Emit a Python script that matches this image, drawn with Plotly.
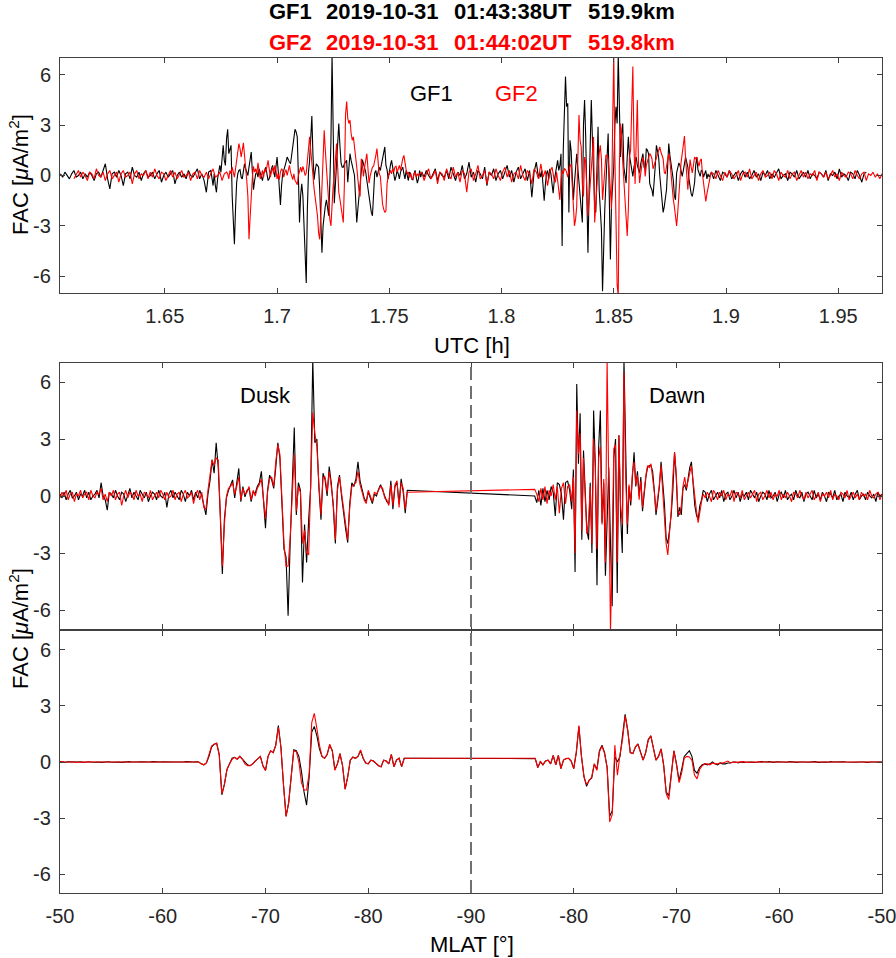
import numpy as np
import plotly.graph_objects as go

W, H = 896, 958
FONT = "Liberation Sans, Arial, sans-serif"

# ---------------- Top panel: FAC [uA/m^2] vs UTC [h] ----------------
GF1_UTC_SPANS = [(1.6035, 1.6715), (1.6720, 1.7640), (1.7645, 1.8165), (1.8170, 1.8925), (1.8935, 1.9625)]
GF1_FAC_Q1 = [0.1,-0.1,0.2,0.0,-0.2,0.1,0.3,-0.1,0.0,0.2,-0.2,0.1,-0.1,0.2,0.0,-0.3,0.1,0.2,-0.1,0.3,
              0.7,-0.2,-0.8,0.1,0.2,-0.1,0.3,0.0,-0.6,0.1,0.2,-0.2,0.5,0.0,-0.1,0.2,-0.3,0.1,0.3,-0.1,
              0.0,0.2,-0.2,0.1,0.3,-0.4,0.0,0.2,-0.1,0.1,0.3,-0.5,0.0,0.2,-0.1,0.1,-0.2,0.3,0.0,-0.1,
              0.2,0.4,-0.2,0.1,-0.3,-1.0,0.2,0.3,-0.6]
GF1_FAC_A1 = [0.1,-0.6,-1.0,-0.2,0.4,0.6,0.2,1.2,1.8,0.9,0.6,2.2,2.75,1.3,1.5,1.8,-1.2,-3.0,-4.1,-2.0,
              -0.4,0.1,0.3,0.35,-0.1,-0.2,0.3,0.7,0.4,0.1,0.0,0.5,1.0,1.4,0.2,-0.85,-0.3,0.1,0.2,-0.1,
              0.4,0.2,-0.1,-0.3,0.1,0.3,0.5,0.1,-0.3,-0.2,0.2,0.4,0.6,0.2,-0.1,0.5,1.1,0.3,-0.8,-1.75,
              -0.6,0.1,0.3,0.5,0.8,1.1,0.9,0.8,0.7,1.3,1.9,2.5,2.75,2.6,2.3,0.0,-2.8,-1.2,-0.5,-1.2,
              -3.0,-5.5,-6.4,-2.0,0.2,0.9,2.0,3.55,1.2,-0.25,0.3,0.7,0.6,0.5,-0.8,-2.4,-4.6,-3.0,-2.2,-1.8,
              -1.45,-2.0,-2.4,-0.5,2.0,7.2,1.0,-1.65,-0.5,1.0,2.2,3.1,1.8,0.75,0.5,0.5,0.7,0.8,0.9,-0.4,
              0.3,1.3,0.9,0.6,0.5,0.0,-1.4,-2.8,-2.0,-1.25,-0.2,0.6,0.95,0.7,0.5,0.2,-0.3,-0.85,-1.3,-2.0,
              -2.2,-2.4,-1.0,0.15,0.3,-0.1,0.2,0.5,0.3,0.6,0.9,1.3,1.7,0.6,0.35,-0.2,0.3,0.6,0.9,0.4,
              0.1,-0.3,-0.05,0.3,0.1,-0.2,0.2,0.4,0.5,0.1,-0.2,0.3,0.0,-0.3,0.2,0.1,-0.2,-0.25,0.1,0.3,
              -0.1,-0.45,-0.2,0.3,-0.1]
GF1_FAC_Q2 = [0.2,-0.1,0.3,0.0,-0.2,0.1,0.4,-0.3,0.2,0.0,-0.1,0.3,-0.2,0.5,0.1,-0.3,0.2,0.0,0.6,-0.2,
              0.1,0.8,-0.1,0.2,-0.4,0.3,0.1,-0.2,0.5,-0.6,0.2,0.0,0.4,-0.3,0.1,0.3,-0.2,0.2,0.6,-0.1,
              0.3,-0.4,0.2,0.5,-0.2,0.1,0.4,-0.3,0.3,-1.3,0.2,0.8,-0.2]
GF1_FAC_A2 = [0.2,-0.1,0.3,-0.4,-1.5,-0.6,0.1,0.3,-0.2,0.4,0.1,-0.5,-1.05,-0.3,0.2,0.5,0.9,0.3,0.6,1.3,
              -4.2,1.5,4.0,5.9,4.1,4.3,-2.2,2.1,1.5,-0.6,-1.45,-0.45,0.6,1.3,0.4,-0.45,-1.65,-2.2,-2.8,3.0,
              4.5,2.3,-2.8,-4.6,-1.0,1.8,4.5,2.1,-0.5,-1.85,-2.2,0.8,2.9,-0.85,-2.0,-3.2,-6.9,-3.5,-2.0,-0.45,
              1.5,2.5,-1.25,-5.0,-1.65,-0.3,0.5,3.0,4.1,3.1,7.2,4.1,1.1,2.5,3.1,0.5,-0.2,-0.45,1.1,2.3,
              1.2,0.75,0.2,-0.05,0.5,0.9,1.1,0.6,0.3,0.15,0.7,1.0,1.3,0.5,0.35,1.6,1.5,1.3,-0.45,-0.7,
              -0.85,-1.25,-0.5,0.6,1.8,1.5,1.1,0.0,-0.85,-1.8,-2.2,-1.85,-1.4,-0.85,0.5,1.9,1.2,0.75,0.1,-0.25,
              -1.2,-1.45,0.15,0.4,0.75,0.6,0.3,-0.05,0.3,0.7,1.1,0.8,0.5,-0.2,-0.85,-1.1,-1.25,-0.7,-0.45,0.6,
              1.1,0.35,0.1,-0.05,0.3,0.25,-0.1,0.2,0.3,-0.2,0.1,-0.1]
GF1_FAC_Q3 = [0.2,-0.2,0.3,0.0,-0.3,0.2,0.1,-0.1,0.3,-0.2,0.0,0.2,-0.3,0.1,0.3,-0.1,0.2,-0.2,0.0,0.3,
              -0.1,0.1,-0.3,0.2,0.0,0.3,-0.2,0.1,-0.1,0.2,0.4,-0.2,0.0,0.1,-0.3,0.2,0.1,-0.1,0.3,-0.2,
              0.0,0.2,-0.1,0.3,-0.2,0.1,0.0,-0.2,0.2,0.1,-0.1,0.3,-0.3,0.1,0.0,0.2,-0.2,0.4,-0.1,0.1,
              0.0,-0.3,0.2,0.1,-0.2,0.3,0.0,-0.4,0.1,0.2]

GF2_UTC_SPANS = [(1.6095, 1.6775), (1.6780, 1.7635), (1.7645, 1.8235), (1.8240, 1.8935), (1.8945, 1.9695)]
GF2_FAC_Q1 = [-0.2,0.1,0.3,-0.1,0.2,0.0,-0.3,0.2,0.1,-0.2,0.4,0.0,-0.1,0.2,-0.3,0.1,0.3,-0.2,0.0,0.2,
              -0.4,0.1,0.3,-0.1,0.0,0.2,-0.5,0.1,0.3,-0.2,0.1,0.0,0.3,-0.2,0.2,-0.1,0.4,0.0,-0.2,0.2,
              0.1,-0.3,0.0,0.3,-0.1,0.2,-0.2,0.1,0.3,-0.1,0.0,0.2,-0.3,0.1,0.2,-0.2,0.3,0.0,-0.1,0.2,
              -0.2,0.1,0.4,-0.1,0.0,0.2,-0.3,0.1,0.2]
GF2_FAC_A1 = [0.1,-0.2,0.3,0.1,0.5,0.2,-0.1,0.4,0.9,1.5,1.9,1.6,1.1,1.5,1.95,1.2,0.55,-0.3,-1.25,-3.8,
              -2.5,-0.85,-0.1,0.55,0.2,0.4,0.1,0.75,0.3,-0.2,0.0,0.3,-0.1,0.4,0.2,0.5,0.9,0.4,-0.1,0.2,
              0.5,0.1,0.6,0.3,-0.2,0.1,-0.25,0.2,0.4,0.3,-0.1,0.2,0.35,0.0,0.3,0.6,0.2,-0.1,-0.25,0.1,
              -0.3,-0.4,-0.55,0.0,0.35,0.5,0.2,0.55,0.3,0.0,0.15,0.8,1.6,2.3,1.5,0.9,0.0,-0.8,-1.25,-1.9,
              -2.4,-3.4,-3.8,-2.4,-0.3,1.2,2.7,1.5,0.55,-0.9,-1.85,-2.6,-3.0,-1.5,-0.6,-0.05,1.0,1.9,0.5,-1.0,
              -1.4,-1.85,-2.3,-2.8,-0.5,3.6,4.4,3.4,3.1,3.3,2.5,2.1,2.3,1.5,1.1,0.5,-0.3,-0.9,-1.25,1.0,
              0.6,-0.05,0.5,1.0,1.3,0.4,-0.45,0.0,0.3,0.5,0.55,0.8,1.2,1.6,0.8,0.1,-0.05,-0.9,-1.7,-2.0,
              -2.2,-2.1,-0.5,-0.05,0.15,0.3,0.1,0.4,0.2,0.5,0.55,0.2,0.4,0.6,0.3,0.8,1.0,1.2,0.6,0.35,
              0.1,0.2,-0.1,0.1,-0.2,-0.2,0.1,0.2,-0.1,0.1,0.0,0.1]
GF2_FAC_Q2 = [0.2,-0.3,0.1,0.4,-0.2,0.0,0.3,-0.5,0.2,0.1,-0.3,0.4,0.0,-0.2,0.5,-0.1,0.2,-0.4,0.3,0.1,
              -1.0,0.2,0.4,-0.3,0.1,0.6,-0.2,0.0,0.3,-0.5,0.2,0.1,-0.2,0.4,0.0,-0.3,0.2,0.5,-0.1,0.3,
              -0.4,0.1,0.2,-0.2,0.6,0.0,-0.3,0.3,0.1,-0.5,0.4,0.2,-0.2,0.7,-0.1,0.3,-0.6,0.2,0.5,-0.3]
GF2_FAC_A2 = [-0.4,0.2,-0.3,-0.9,-1.45,-0.2,0.3,0.1,0.4,0.35,0.2,-0.1,0.3,0.6,0.65,-0.8,-2.0,-3.0,-2.6,-1.85,
              1.0,3.6,2.1,1.7,-0.5,-1.25,1.1,0.8,-0.8,-2.4,-1.5,-0.5,0.55,1.5,2.3,-2.8,-1.5,-0.45,0.5,1.3,
              1.8,1.0,-1.45,-0.6,0.15,1.2,1.2,1.0,0.2,-1.0,-2.0,3.0,7.2,1.1,-3.0,-6.5,-7.2,0.5,3.1,2.3,
              0.8,-0.3,-1.0,-2.6,-3.6,-2.0,1.1,1.5,3.5,6.5,1.8,-0.5,2.0,4.5,0.8,-0.45,0.1,0.55,1.1,0.8,
              -0.05,0.6,0.9,1.1,1.3,1.2,1.0,0.4,0.6,0.9,1.1,1.3,1.5,1.7,1.4,1.2,1.0,0.2,0.1,0.55,
              0.9,1.3,0.9,0.0,-0.85,-1.4,-1.85,-2.6,-3.0,-2.2,-1.0,0.15,0.8,1.3,2.0,2.35,1.0,0.2,-0.85,0.1,
              0.95,0.5,0.15,0.6,1.1,1.0,1.1,0.8,0.55,0.9,1.0,0.1,-0.5,-0.85,-1.55,-1.1,-0.65,-0.2,-0.05,0.2]
GF2_FAC_Q3 = [0.1,-0.2,0.3,0.0,-0.3,0.2,-0.1,0.3,0.1,-0.2,0.0,0.3,-0.3,0.1,0.2,-0.1,0.4,-0.2,0.0,0.2,
              -0.3,0.1,0.3,-0.1,0.0,0.2,-0.2,0.3,0.1,-0.3,0.2,0.0,-0.1,0.3,-0.2,0.1,0.2,-0.3,0.0,0.3,
              -0.1,0.2,-0.2,0.1,0.0,0.3,-0.3,0.2,0.1,-0.1,0.2,-0.2,0.0,0.3,-0.1,0.1,-0.3,0.2,0.0,-0.1,
              0.2,0.1,-0.2,0.3,0.0,-0.2,0.1,0.2,-0.3,0.1,0.0,0.2,-0.1,0.1,-0.2,0.1]

# ---------------- Middle panel: FAC vs MLAT (dusk -> pole -> dawn) ----------------
MID_MLAT_SPANS = [(-50.0, -63.0, "dusk"), (-63.2, -83.8, "dusk"),
                  (-83.8, -80.4, "dawn"), (-80.2, -67.4, "dawn"), (-67.2, -50.0, "dawn")]
GF1_MID_DUSK_Q = [0.1,-0.1,0.2,-0.2,0.1,0.3,-0.1,0.0,0.2,-0.2,0.1,0.0,0.3,-0.1,0.2,-0.2,0.0,0.1,0.3,-0.1,
                  0.7,0.0,-0.2,-0.75,0.2,0.1,-0.1,0.3,0.0,-0.2,0.2,0.1,-0.3,0.1,0.4,-0.1,0.2,0.0,-0.2,0.3,
                  0.1,-0.1,0.2,-0.3,0.0,0.2,0.1,-0.2,0.3,0.0,-0.1,0.2,-0.6,0.1,0.3,-0.1,0.2,0.0,-0.2,0.3,
                  0.1,-0.3,0.2,0.0,0.3,-0.2]
GF1_MID_DUSK_A = [0.2,-0.1,0.3,0.0,-0.5,-1.0,0.1,0.8,1.9,1.2,2.8,1.5,-1.05,-4.1,-1.2,-0.1,0.3,0.6,0.85,-0.1,
                  0.6,1.45,-0.3,0.5,-0.05,0.3,0.4,-0.3,0.2,0.15,0.5,0.7,1.3,-0.2,-1.7,0.3,1.1,0.85,0.4,1.5,
                  2.8,2.0,-0.2,-2.8,-3.2,-6.3,-2.5,0.5,3.6,-1.0,0.7,0.3,-4.55,-1.5,-3.5,-1.25,0.5,7.2,2.8,3.0,
                  0.4,-1.25,1.2,0.85,0.0,1.55,0.7,-0.6,-2.5,0.5,1.1,0.0,-1.0,-1.75,-2.45,-0.4,0.7,0.5,0.9,1.8,
                  0.8,0.3,-0.1,-0.3,0.2,-0.1,-0.4,0.1,0.0,0.35,0.6,0.3,0.0,-0.3,-0.4,0.8,-0.7,0.5,0.7,-0.4,
                  0.9,0.2,-0.9,0.3]
GF1_MID_DAWN_P = [0.0,-0.35,0.3,-0.5,0.4,-0.3,0.3,-0.2,0.5,0.2,-1.05,0.7,0.6,0.1,-1.25,0.7,0.8,0.3]
GF1_MID_DAWN_A = [-0.7,1.4,-4.0,5.9,1.7,4.35,-2.3,2.4,0.3,-1.8,-2.3,0.7,-3.0,4.5,1.7,-4.7,2.6,4.5,-1.4,0.7,
                  -4.2,-0.9,1.5,-2.5,-5.8,2.0,3.0,-5.1,3.2,-1.0,-3.0,7.2,1.5,-2.0,0.5,-0.5,1.0,
                  2.3,0.5,1.3,0.0,1.0,-0.8,0.3,1.0,1.5,1.6,1.6,1.3,0.3,-1.0,-0.3,0.5,1.8,0.7,-0.4,-2.2,
                  -2.5,-1.8,-1.0,0.3,2.3,1.0,-1.1,-0.6,-1.0,0.4,0.6,0.3,1.0,1.5,1.8,0.5,-0.5,-1.0,-1.25,-0.5,
                  -0.2,0.3]
GF1_MID_DAWN_Q = [0.2,-0.3,0.1,0.3,-0.2,0.0,0.2,-0.1,0.3,-0.3,0.1,0.2,-0.2,0.0,0.3,-0.1,0.2,-0.3,0.1,0.0,
                  0.2,-0.2,0.3,0.1,-0.1,0.2,-0.3,0.0,0.2,0.1,-0.2,0.3,-0.1,0.0,0.2,-0.3,0.1,0.2,-0.1,0.3,
                  -0.2,0.0,0.1,-0.2,0.3,0.0,-0.1,0.2,-0.3,0.1,0.2,0.0,-0.2,0.3,-0.1,0.1,-0.2,0.2,0.0,-0.3,
                  0.2,0.1,-0.1,0.3,-0.2,0.0,0.1,-0.3,0.2,0.0,-0.1,0.2,-0.2,0.1,0.3,-0.2,0.0,0.1,-0.2,0.2,
                  0.0,-0.1,0.1,-0.3,0.2,0.0,0.1]

GF2_MID_DUSK_Q = [-0.1,0.2,0.0,0.3,-0.2,0.1,0.2,-0.3,0.1,0.0,0.3,-0.1,0.1,0.2,-0.2,0.3,0.0,-0.1,0.2,0.1,
                  0.4,-0.2,0.1,-0.3,0.2,0.0,0.3,-0.2,0.1,0.2,-0.5,0.0,0.3,-0.1,0.2,0.1,-0.2,0.3,0.0,0.1,
                  -0.3,0.2,0.1,-0.1,0.3,-0.2,0.0,0.2,-0.1,0.3,0.1,-0.2,0.2,-0.1,0.0,0.3,-0.2,0.1,0.2,-0.3,
                  0.1,0.3,-0.1,0.0,0.2,-0.4]
GF2_MID_DUSK_A = [0.1,0.3,-0.2,0.2,-0.6,-0.7,0.3,1.0,1.9,1.6,2.0,1.9,-0.5,-3.7,-1.5,0.0,0.4,0.5,0.7,0.1,
                  0.5,1.0,-0.2,0.4,0.1,0.2,0.5,-0.2,0.3,0.0,0.4,0.6,0.9,-0.1,-1.2,0.2,0.9,1.0,0.5,1.8,
                  2.7,2.2,0.0,-2.5,-3.7,-3.7,-2.2,0.3,2.2,-0.8,0.5,0.2,-2.5,-1.8,-3.0,-3.1,0.8,4.4,3.3,2.6,
                  0.6,-1.0,1.0,1.0,0.2,1.3,0.5,-0.4,-2.3,0.3,1.0,0.2,-0.8,-1.6,-2.3,-0.6,0.5,0.6,0.7,1.3,
                  0.6,0.2,-0.2,-0.4,0.3,0.0,-0.3,0.2,0.1,0.3,0.5,0.4,-0.1,-0.2,-0.5,0.6,-0.5,0.6,0.8,-0.6,
                  0.7,0.4,-0.7,0.2]
GF2_MID_DAWN_P = [0.35,0.1,-0.3,0.4,-0.2,0.5,-0.4,0.3,0.0,0.6,-0.2,0.5,-0.9,0.4,0.7,-0.4,0.5,0.6]
GF2_MID_DAWN_A = [-0.3,1.0,-3.0,4.5,2.2,3.3,-1.8,2.0,0.0,-2.0,-1.3,0.5,-2.5,3.0,1.5,-2.8,2.0,2.6,-1.5,0.9,
                  -3.5,7.2,0.5,-7.2,-2.5,2.5,2.7,-3.5,3.2,-0.5,-1.5,6.5,1.0,-1.5,0.6,-0.3,1.2,
                  1.8,0.6,1.1,-0.2,0.8,-0.6,0.4,1.1,1.6,1.5,1.7,1.0,0.2,-0.8,-0.2,0.6,1.6,0.4,-0.8,-2.5,
                  -3.1,-2.0,-0.8,1.0,2.3,1.2,-0.8,-1.0,-0.5,0.5,1.0,0.4,0.8,1.3,1.6,0.8,-0.2,-0.8,-1.4,-0.8,
                  -0.3,0.1]
GF2_MID_DAWN_Q = [-0.1,0.2,0.0,-0.3,0.3,0.1,-0.2,0.2,0.0,0.3,-0.2,0.1,0.0,0.3,-0.3,0.2,0.1,-0.1,0.3,-0.2,
                  0.0,0.2,-0.1,0.1,0.3,-0.3,0.1,0.2,-0.2,0.0,0.3,-0.1,0.2,-0.2,0.1,0.0,0.3,-0.2,0.1,-0.1,
                  0.2,0.0,-0.3,0.2,0.1,-0.1,0.3,0.0,-0.2,0.2,-0.1,0.1,0.3,-0.2,0.0,0.2,-0.3,0.1,0.0,0.2,
                  -0.1,0.3,-0.2,0.1,0.0,-0.2,0.2,0.1,-0.1,0.3,-0.2,0.0,0.2,-0.1,0.1,-0.2,0.2,0.0,0.1,-0.2,
                  0.3,0.0,-0.1,0.1,0.2,-0.2,0.1]

# ---------------- Bottom panel: low-pass FAC vs MLAT ----------------
LOW_MLAT_SPANS = [(-50.0, -63.25, "dusk"), (-63.5, -83.75, "dusk"),
                  (-83.75, -68.0, "dawn"), (-67.75, -50.0, "dawn")]
GF1_LOW_DUSK_Q = [0.02,0.0,-0.02,0.01,0.0,0.02,-0.01,0.0,0.01,-0.02,0.0,0.02,0.0,-0.01,0.01,0.0,-0.02,0.0,
                  0.02,0.01,-0.01,0.0,0.01,0.0,-0.02,0.0,0.01,0.02,0.0,-0.01,0.0,0.01,0.0,-0.02,0.01,0.0,
                  0.02,0.0,-0.01,0.0,0.01,0.0,-0.01,0.02,0.0,0.0,-0.01,0.01,0.0,0.02,0.0,-0.01,0.0,0.01]
GF1_LOW_DUSK_A = [0.0,-0.1,-0.15,-0.05,0.3,0.8,0.95,1.0,0.4,-1.75,-1.2,-0.4,-0.1,0.2,0.25,0.15,0.3,0.15,-0.05,-0.15,
                  -0.2,-0.1,0.05,0.2,0.3,-0.2,-0.45,0.3,0.6,0.5,0.9,1.95,0.8,-1.2,-2.9,-2.2,-0.6,0.65,0.6,0.3,
                  -0.5,-1.6,-2.3,-0.8,1.6,1.9,1.4,0.7,0.3,0.2,0.4,0.9,0.6,-0.4,-0.1,0.45,-0.2,-1.45,-0.8,0.1,
                  0.27,0.2,0.3,0.6,0.2,-0.05,-0.1,0.1,0.05,-0.1,-0.2,-0.25,0.1,0.05,-0.1,0.4,-0.25,0.1,0.2,-0.25,
                  0.2,0.2]
GF1_LOW_DAWN_A = [0.18,-0.3,0.0,-0.15,0.05,0.1,-0.1,0.35,-0.15,0.35,-0.35,0.1,0.18,0.2,0.05,-0.35,0.5,1.9,0.3,-0.8,
                  -1.3,-0.97,-0.85,-0.1,-0.4,0.6,0.9,0.5,-0.3,-2.9,-2.6,0.3,0.0,0.3,1.3,2.55,1.7,0.5,0.45,0.8,
                  0.97,0.55,0.1,0.5,1.2,1.4,0.8,0.1,0.3,0.7,-0.15,-1.6,-1.8,-0.4,0.6,-0.1,-1.0,-0.4,0.3,0.45,
                  0.6,0.3,-0.45,-0.6]
GF1_LOW_DAWN_Q = [-0.3,-0.15,-0.1,-0.15,-0.1,0.0,-0.1,-0.15,-0.05,-0.1,-0.1,-0.05,-0.05,0.0,0.0,-0.05,0.0,-0.02,
                  0.0,0.02,0.0,-0.02,0.01,0.0,0.02,-0.01,0.0,0.02,0.0,-0.02,0.01,0.0,0.02,0.0,-0.01,0.02,
                  0.0,0.01,-0.02,0.0,0.02,0.0,-0.01,0.01,0.0,0.02,-0.02,0.0,0.01,0.0,-0.01,0.02,0.0,0.01,
                  -0.02,0.0,0.01,0.0,-0.01,0.02,0.0,-0.01,0.0,0.02,0.0,-0.02,0.01,0.0,0.0,-0.02,0.0,0.0]

GF2_LOW_DUSK_Q = [0.0,0.02,-0.01,0.0,0.02,0.01,-0.02,0.0,0.01,0.0,-0.01,0.02,0.0,0.0,-0.02,0.01,0.02,0.0,
                  -0.01,0.0,0.02,0.0,-0.01,0.01,0.0,0.02,-0.02,0.0,0.01,0.0,0.02,-0.01,0.0,0.0,0.02,-0.01,
                  0.01,0.0,0.0,-0.02,0.01,0.02,0.0,-0.01,0.0,0.01,0.0,-0.02,0.02,0.0,0.0,0.01,-0.01,0.0]
GF2_LOW_DUSK_A = [0.0,-0.1,-0.15,-0.05,0.35,0.85,0.95,1.0,0.35,-1.7,-1.2,-0.4,-0.1,0.15,0.25,0.15,0.3,0.15,-0.1,-0.2,
                  -0.2,-0.1,0.05,0.2,0.3,-0.2,-0.45,0.3,0.6,0.5,0.9,1.85,0.8,-1.2,-2.9,-2.2,-0.6,0.6,0.55,0.0,
                  -1.1,-1.5,-1.5,-0.6,2.1,2.6,1.8,0.9,0.3,0.2,0.4,0.95,0.6,-0.45,-0.1,0.45,-0.2,-1.45,-0.8,0.1,
                  0.25,0.2,0.3,0.65,0.2,-0.05,-0.1,0.1,0.05,-0.1,-0.2,-0.25,0.1,0.05,-0.1,0.4,-0.25,0.1,0.2,-0.25,
                  0.2,0.2]
GF2_LOW_DAWN_A = [0.2,-0.3,0.05,-0.15,0.05,0.1,-0.1,0.35,-0.15,0.35,-0.35,0.1,0.18,0.2,0.05,-0.35,0.55,1.95,0.3,-0.8,
                  -1.2,-1.0,-0.8,-0.1,-0.45,0.55,0.85,0.45,-0.3,-3.2,-2.8,0.9,-0.7,0.4,1.2,2.45,1.7,0.5,0.45,0.8,
                  0.95,0.5,0.1,0.5,1.15,1.4,0.8,0.1,0.3,0.7,-0.2,-1.7,-2.0,-0.5,0.6,-0.15,-1.1,-0.6,0.2,0.3,
                  0.27,0.1,-0.7,-0.9]
GF2_LOW_DAWN_Q = [-0.4,-0.2,-0.1,-0.1,-0.15,-0.05,-0.1,-0.1,-0.05,-0.05,0.0,0.05,-0.05,0.0,-0.02,0.0,0.0,0.02,
                  -0.02,0.0,0.01,0.0,-0.01,0.02,0.0,0.0,-0.02,0.01,0.0,0.02,-0.01,0.0,0.01,0.0,-0.02,0.01,
                  0.0,0.02,0.0,-0.01,0.0,0.01,0.0,-0.02,0.0,0.01,0.02,0.0,-0.01,0.0,0.02,0.0,-0.01,0.0,
                  0.01,0.0,-0.02,0.0,0.01,0.0,-0.01,0.02,0.0,0.0,-0.01,0.01,0.0,-0.02,0.0,0.01,0.0,0.0]

UTC_TICKS = [1.65, 1.70, 1.75, 1.80, 1.85, 1.90, 1.95]
UTC_TICK_TEXT = ["1.65", "1.7", "1.75", "1.8", "1.85", "1.9", "1.95"]
MLAT_TICK_TEXT = ["-50", "-60", "-70", "-80", "-90", "-80", "-70", "-60", "-50"]
FAC_TICKS = [-6, -3, 0, 3, 6]


def build_utc(spans, segs):
    xs = [np.linspace(a, b, len(v)) for (a, b), v in zip(spans, segs)]
    return np.concatenate(xs), np.concatenate([np.asarray(v, float) for v in segs])


def build_mlat(spans, segs):
    # fold MLAT onto one axis: dusk -50..-90 then dawn -90..-50
    xs = []
    for (a, b, side), v in zip(spans, segs):
        m = np.linspace(a, b, len(v))
        xs.append(-50.0 - m if side == "dusk" else 130.0 + m)
    return np.concatenate(xs), np.concatenate([np.asarray(v, float) for v in segs])


t1, f1 = build_utc(GF1_UTC_SPANS, [GF1_FAC_Q1, GF1_FAC_A1, GF1_FAC_Q2, GF1_FAC_A2, GF1_FAC_Q3])
t2, f2 = build_utc(GF2_UTC_SPANS, [GF2_FAC_Q1, GF2_FAC_A1, GF2_FAC_Q2, GF2_FAC_A2, GF2_FAC_Q3])
m1, g1 = build_mlat(MID_MLAT_SPANS, [GF1_MID_DUSK_Q, GF1_MID_DUSK_A, GF1_MID_DAWN_P, GF1_MID_DAWN_A, GF1_MID_DAWN_Q])
m2, g2 = build_mlat(MID_MLAT_SPANS, [GF2_MID_DUSK_Q, GF2_MID_DUSK_A, GF2_MID_DAWN_P, GF2_MID_DAWN_A, GF2_MID_DAWN_Q])
l1x, l1 = build_mlat(LOW_MLAT_SPANS, [GF1_LOW_DUSK_Q, GF1_LOW_DUSK_A, GF1_LOW_DAWN_A, GF1_LOW_DAWN_Q])
l2x, l2 = build_mlat(LOW_MLAT_SPANS, [GF2_LOW_DUSK_Q, GF2_LOW_DUSK_A, GF2_LOW_DAWN_A, GF2_LOW_DAWN_Q])

BLACK, RED = "#000000", "#ff0000"
fig = go.Figure()
for xs, ys, col, ax in [(t1, f1, BLACK, 1), (t2, f2, RED, 1),
                        (m1, g1, BLACK, 2), (m2, g2, RED, 2),
                        (l1x, l1, BLACK, 3), (l2x, l2, RED, 3)]:
    sfx = "" if ax == 1 else str(ax)
    fig.add_trace(go.Scatter(x=xs, y=ys, mode="lines", line=dict(color=col, width=1.1),
                             xaxis="x" + sfx, yaxis="y" + sfx, showlegend=False, hoverinfo="skip"))


def px(x):
    return x / W


def py(y):
    return 1 - y / H


XDOM = [px(60), px(882)]
FRAME = "#404040"
AX = dict(showline=True, linecolor=FRAME, linewidth=1, mirror="ticks", ticks="inside",
          ticklen=5, tickwidth=1, tickcolor=FRAME, showgrid=False, zeroline=False,
          automargin=False, tickfont=dict(family=FONT, size=20, color="#262626"))
YAX = dict(AX, range=[-7, 7], tickvals=FAC_TICKS, showticklabels=False)
XAX = dict(AX, ticklabelstandoff=5, ticklabeloverflow="allow")

fig.update_layout(
    width=W, height=H, margin=dict(l=0, r=0, t=0, b=0, pad=0), autosize=False,
    plot_bgcolor="white", paper_bgcolor="white",
    xaxis=dict(XAX, domain=XDOM, anchor="y", range=[1.6033, 1.9695], tickvals=UTC_TICKS, ticktext=UTC_TICK_TEXT),
    yaxis=dict(YAX, domain=[py(293), py(58)], anchor="x"),
    xaxis2=dict(XAX, domain=XDOM, anchor="y2", range=[0, 80], tickvals=list(range(0, 81, 10)),
                ticktext=MLAT_TICK_TEXT, showticklabels=False),
    yaxis2=dict(YAX, domain=[py(629), py(363)], anchor="x2"),
    xaxis3=dict(XAX, domain=XDOM, anchor="y3", range=[0, 80], tickvals=list(range(0, 81, 10)),
                ticktext=MLAT_TICK_TEXT),
    yaxis3=dict(YAX, domain=[py(893), py(631)], anchor="x3"),
)

fig.add_shape(type="line", xref="x2", yref="paper", x0=40, x1=40, y0=py(893), y1=py(363),
              line=dict(color="#707070", width=2, dash="13px,6px"), layer="above")

anns = []


def ann(text, x, y, size=22, color="black", xanchor="center", angle=0, yref="paper"):
    anns.append(dict(text=text, x=px(x), y=(py(y) if yref == "paper" else y), xref="paper", yref=yref,
                     showarrow=False, xanchor=xanchor, yanchor="middle", textangle=angle,
                     font=dict(family=FONT, size=size, color=color)))


# y tick labels (right-aligned next to each panel's left axis)
for yr in ["y", "y2", "y3"]:
    for v in FAC_TICKS:
        ann(str(v), 53, v, size=20, color="#262626", xanchor="right", yref=yr)

TITLE_WORDS_1 = ["GF1", "2019-10-31", "01:43:38UT", "519.9km"]
TITLE_WORDS_2 = ["GF2", "2019-10-31", "01:44:02UT", "519.8km"]
TITLE_X = [267, 324, 452, 586]
for w, x in zip(TITLE_WORDS_1, TITLE_X):
    ann("<b>%s</b>" % w, x, 11, color=BLACK, xanchor="left")
for w, x in zip(TITLE_WORDS_2, TITLE_X):
    ann("<b>%s</b>" % w, x, 43, color=RED, xanchor="left")

ann("GF1", 431, 93, color=BLACK)
ann("GF2", 516, 93, color=RED)
ann("Dusk", 265, 395)
ann("Dawn", 677, 395)
ann("UTC [h]", 472, 345)
ann("MLAT [°]", 472, 944)
ann("FAC [<i>μ</i>A/m<sup>2</sup>]", 19, 175, angle=-90)
ann("FAC [<i>μ</i>A/m<sup>2</sup>]", 19, 629, angle=-90)
fig.update_layout(annotations=anns)

fig.write_html("out.html", config={"displayModeBar": False},
               post_script="document.body.style.margin='0';document.body.style.overflow='hidden';")
